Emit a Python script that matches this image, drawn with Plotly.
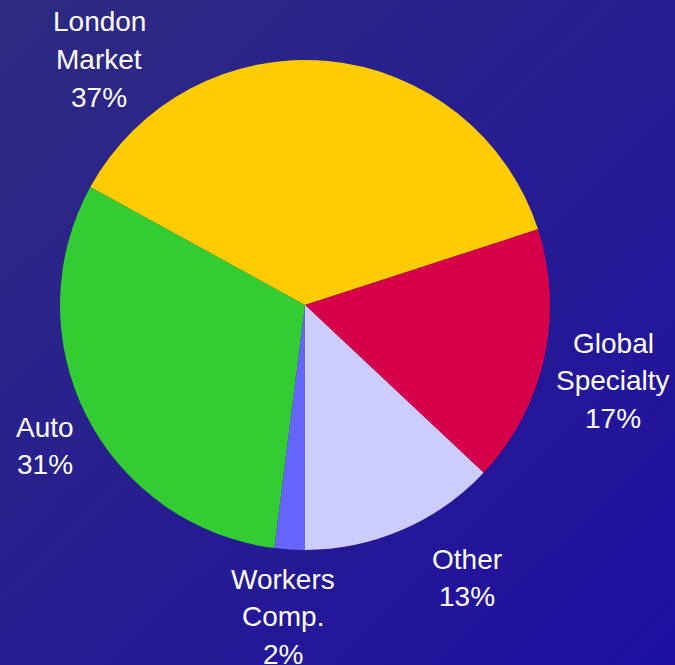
import base64
import plotly.graph_objects as go

# Data
labels = ["Workers Comp.", "Auto", "London Market", "Global Specialty", "Other"]
label_lines = [["Workers", "Comp.", "2%"], ["Auto", "31%"], ["London", "Market", "37%"],
               ["Global", "Specialty", "17%"], ["Other", "13%"]]
values = [2, 31, 37, 17, 13]
colors = ["#6666FF", "#33CC33", "#FFCC00", "#D6004A", "#CCCCFF"]

W, H = 675, 665
# label anchor (pixel center of first line) for each slice
label_pos = [(283, 579), (45, 427), (99, 22), (613, 343), (467, 559)]
line_gap = 37.5

svg = f'''<svg xmlns="http://www.w3.org/2000/svg" width="{W}" height="{H}" preserveAspectRatio="none">
<defs><linearGradient id="g" x1="0" y1="0" x2="1" y2="1">
<stop offset="0" stop-color="#2E2B80"/><stop offset="1" stop-color="#200FA2"/></linearGradient></defs>
<rect width="{W}" height="{H}" fill="url(#g)"/></svg>'''
uri = "data:image/svg+xml;base64," + base64.b64encode(svg.encode()).decode()

cx, cy, r = 305, 305, 245
fig = go.Figure(go.Pie(
    labels=labels, values=values, sort=False, direction="clockwise", rotation=180,
    marker=dict(colors=colors, line=dict(width=0)),
    textinfo="none", hoverinfo="label+percent", showlegend=False,
    domain=dict(x=[(cx - r) / W, (cx + r) / W], y=[1 - (cy + r) / H, 1 - (cy - r) / H]),
))

annotations = []
for (px, py), lines in zip(label_pos, label_lines):
    for i, t in enumerate(lines):
        annotations.append(dict(
            x=px / W, y=1 - (py + i * line_gap) / H, xref="paper", yref="paper",
            text=t, showarrow=False, xanchor="center", yanchor="middle",
            font=dict(family="Liberation Sans, Arial", size=28, color="white")))

fig.update_layout(
    width=W, height=H, margin=dict(l=0, r=0, t=0, b=0),
    paper_bgcolor="#28209A", plot_bgcolor="rgba(0,0,0,0)",
    images=[dict(source=uri, xref="paper", yref="paper", x=0, y=1, sizex=1, sizey=1,
                 xanchor="left", yanchor="top", sizing="stretch", layer="below")],
    annotations=annotations,
)
fig.write_html("out.html")
